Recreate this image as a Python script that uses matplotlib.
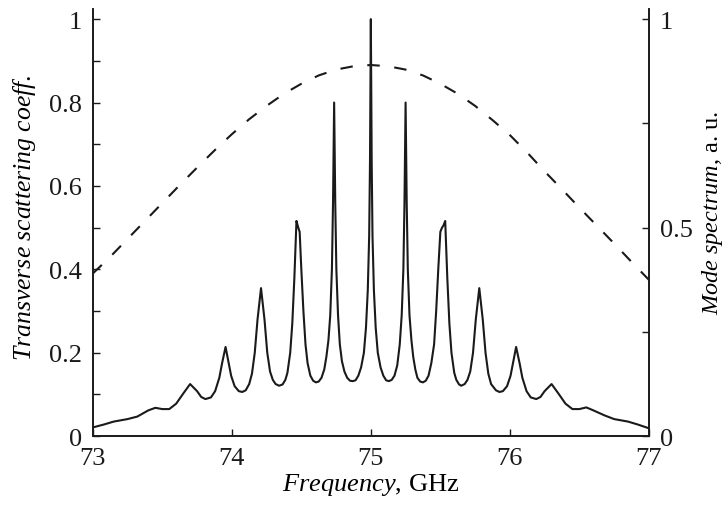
import matplotlib
matplotlib.use("Agg")
import matplotlib.pyplot as plt
from matplotlib.ticker import FixedLocator

plt.rcParams['font.family'] = ['Liberation Serif', 'DejaVu Serif']
plt.rcParams['mathtext.fontset'] = 'custom'
plt.rcParams['mathtext.rm'] = 'Liberation Serif'
plt.rcParams['mathtext.it'] = 'Liberation Serif:italic'

# -------------------------------
# DATA
# -------------------------------
# transverse scattering coefficient (dashed, left axis)
coeff_freq = [73.0, 73.125, 73.25, 73.375, 73.5, 73.625, 73.75, 73.875, 74.0,
              74.125, 74.25, 74.375, 74.5, 74.625, 74.75, 74.875, 75.0,
              75.125, 75.25, 75.375, 75.5, 75.625, 75.75, 75.875, 76.0,
              76.125, 76.25, 76.375, 76.5, 76.625, 76.75, 76.875, 77.0]
coeff_val = [0.39, 0.43, 0.473, 0.516, 0.559, 0.602, 0.644, 0.685, 0.724,
             0.760, 0.792, 0.821, 0.845, 0.865, 0.879, 0.887, 0.89,
             0.887, 0.879, 0.865, 0.845, 0.821, 0.792, 0.758, 0.722,
             0.680, 0.635, 0.592, 0.548, 0.505, 0.462, 0.418, 0.375]

# mode spectrum (solid, right axis), one row per peak
mode_freq = [
    73.00, 73.08, 73.15, 73.25, 73.32, 73.40, 73.45, 73.50, 73.55,
    73.60, 73.65, 73.70, 73.75, 73.78, 73.81, 73.85, 73.88,
    73.91, 73.93, 73.955, 73.975, 73.995, 74.02, 74.05, 74.075, 74.10,
    74.125, 74.145, 74.165, 74.185, 74.198, 74.21,
    74.222, 74.235, 74.255, 74.275, 74.295, 74.315,
    74.34, 74.365, 74.385, 74.40, 74.42, 74.435, 74.45, 74.465,
    74.478, 74.488, 74.50, 74.515, 74.53, 74.545, 74.565, 74.585,
    74.605, 74.625, 74.645, 74.665, 74.68, 74.695, 74.708, 74.72, 74.728,
    74.736, 74.744, 74.752, 74.764, 74.777, 74.792, 74.81, 74.83, 74.85,
    74.87, 74.89, 74.91, 74.93, 74.95, 74.965, 74.978, 74.988, 74.994,
    75.0, 75.006, 75.012, 75.022, 75.035, 75.05, 75.07, 75.09, 75.11,
    75.13, 75.15, 75.17, 75.19, 75.208, 75.222, 75.234, 75.242,
    75.25, 75.258, 75.266, 75.278, 75.292, 75.305, 75.32, 75.335,
    75.355, 75.375, 75.395, 75.415, 75.435, 75.455, 75.47, 75.485, 75.50,
    75.512, 75.522, 75.535, 75.55, 75.565, 75.58, 75.60, 75.615, 75.635,
    75.65, 75.675, 75.695, 75.715, 75.735, 75.755, 75.768,
    75.78, 75.792, 75.805, 75.825, 75.845, 75.865,
    75.90, 75.925, 75.95, 75.98, 76.005, 76.025, 76.045, 76.07, 76.09,
    76.12, 76.15, 76.19, 76.22, 76.25, 76.30, 76.35, 76.40,
    76.45, 76.50, 76.55, 76.60, 76.68, 76.75, 76.85, 76.92, 77.00,
]
mode_val = [
    0.021, 0.028, 0.035, 0.041, 0.047, 0.062, 0.068, 0.065, 0.065,
    0.078, 0.102, 0.125, 0.108, 0.094, 0.089, 0.093, 0.108,
    0.14, 0.175, 0.214, 0.18, 0.145, 0.12, 0.108, 0.106, 0.11,
    0.125, 0.15, 0.20, 0.28, 0.32, 0.355,
    0.32, 0.28, 0.20, 0.155, 0.135, 0.125,
    0.121, 0.124, 0.135, 0.152, 0.20, 0.27, 0.38, 0.516,
    0.50, 0.49, 0.40, 0.30, 0.22, 0.175, 0.145, 0.133,
    0.129, 0.131, 0.14, 0.16, 0.19, 0.23, 0.29, 0.40, 0.56,
    0.80, 0.56, 0.40, 0.29, 0.22, 0.18, 0.155, 0.14, 0.133,
    0.132, 0.134, 0.145, 0.165, 0.20, 0.26, 0.35, 0.48, 0.66,
    1.0, 0.66, 0.48, 0.35, 0.26, 0.20, 0.165, 0.145, 0.134,
    0.132, 0.135, 0.145, 0.17, 0.22, 0.29, 0.40, 0.56,
    0.80, 0.56, 0.40, 0.29, 0.23, 0.19, 0.16, 0.14,
    0.131, 0.129, 0.133, 0.145, 0.175, 0.22, 0.30, 0.40, 0.49,
    0.50, 0.505, 0.516, 0.38, 0.27, 0.20, 0.152, 0.135, 0.124,
    0.121, 0.125, 0.135, 0.155, 0.20, 0.28, 0.32,
    0.355, 0.32, 0.28, 0.20, 0.15, 0.125,
    0.11, 0.106, 0.108, 0.12, 0.145, 0.18, 0.214, 0.175, 0.14,
    0.108, 0.093, 0.089, 0.094, 0.108, 0.125, 0.102, 0.078,
    0.065, 0.065, 0.069, 0.062, 0.05, 0.041, 0.035, 0.028, 0.019,
]

x_ticks = [73, 74, 75, 76, 77]
left_ticks = [0, 0.2, 0.4, 0.6, 0.8, 1]
left_labels = ["0", "0.2", "0.4", "0.6", "0.8", "1"]
right_ticks = [0, 0.5, 1]
right_labels = ["0", "0.5", "1"]

# -------------------------------
# PLOT
# -------------------------------
fig = plt.figure(figsize=(7.25, 5.06), dpi=100)
ax = fig.add_axes([0.128, 0.136, 0.767, 0.844])
ax2 = ax.twinx()

ax.plot(coeff_freq, coeff_val, color='#1a1a1a', lw=1.5, dashes=(6, 7))
ax2.plot(mode_freq, mode_val, color='#1a1a1a', lw=1.5)

ax.set_xlim(73, 77)
ax.set_ylim(0, 1.024)
ax2.set_ylim(0, 1.024)

ax.set_xticks(x_ticks)
ax.set_xticklabels([str(t) for t in x_ticks])
ax.set_yticks(left_ticks)
ax.set_yticklabels(left_labels)
ax.yaxis.set_minor_locator(FixedLocator([0.1, 0.3, 0.5, 0.7, 0.9]))
ax2.set_yticks(right_ticks)
ax2.set_yticklabels(right_labels)
ax2.yaxis.set_minor_locator(FixedLocator([0.25, 0.75]))

for a in (ax, ax2):
    a.spines['top'].set_visible(False)
    for s in a.spines.values():
        s.set_linewidth(1.2)
        s.set_color('#1a1a1a')
    a.tick_params(which='both', direction='in', length=5, width=1.0,
                  labelsize=19, pad=8, colors='#1a1a1a')

ax.set_xlabel(r"$\mathit{Frequency}$, GHz", fontsize=19, labelpad=1)
ax.set_ylabel(r"$\mathit{Transverse\ scattering\ coeff.}$", fontsize=18.5,
              labelpad=8)
ax.yaxis.label.set_y(0.515)
ax2.set_ylabel(r"$\mathit{Mode\ spectrum}$, a. u.", fontsize=17.5, labelpad=5,
               rotation=90)
ax2.yaxis.label.set_y(0.525)

fig.savefig("out.png", dpi=100)
